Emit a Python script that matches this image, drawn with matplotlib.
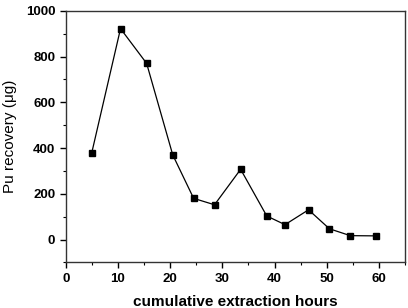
import numpy as np
import matplotlib.pyplot as plt
from matplotlib.ticker import MultipleLocator

# Extraction data.
hours = [5.0, 10.5, 15.5, 20.5, 24.5, 28.5, 33.5, 38.5, 42.0, 46.5, 50.5, 54.5, 59.5]
pu_ug = [380, 922, 770, 370, 180, 152, 307, 103, 65, 130, 47, 17, 16]

plt.rcParams['font.family'] = ['Liberation Sans', 'DejaVu Sans']
plt.rcParams['font.weight'] = 'bold'

fig = plt.figure(figsize=(4.08, 3.08), dpi=100)
ax = fig.add_axes([0.161, 0.148, 0.832, 0.817])

ax.plot(hours, pu_ug, color='black', lw=0.9, marker='s', ms=4.5,
        mfc='black', mec='black')

ax.set_xlim(0, 65)
ax.set_ylim(-100, 1000)
ax.xaxis.set_major_locator(MultipleLocator(10))
ax.xaxis.set_minor_locator(MultipleLocator(5))
ax.yaxis.set_major_locator(MultipleLocator(200))
ax.yaxis.set_minor_locator(MultipleLocator(100))
ax.tick_params(which='major', direction='out', length=4, width=1, labelsize=9.5)
ax.tick_params(which='minor', direction='out', length=2.5, width=0.8)
for lab in ax.get_xticklabels() + ax.get_yticklabels():
    lab.set_fontweight('bold')
for s in ax.spines.values():
    s.set_linewidth(1.0)
    s.set_color('#333333')

ax.set_xlabel('cumulative extraction hours', fontsize=11, fontweight='bold', labelpad=7)
ax.set_ylabel('Pu recovery (\u03bcg)', fontsize=11, labelpad=6)

fig.savefig('out.png', dpi=100)
